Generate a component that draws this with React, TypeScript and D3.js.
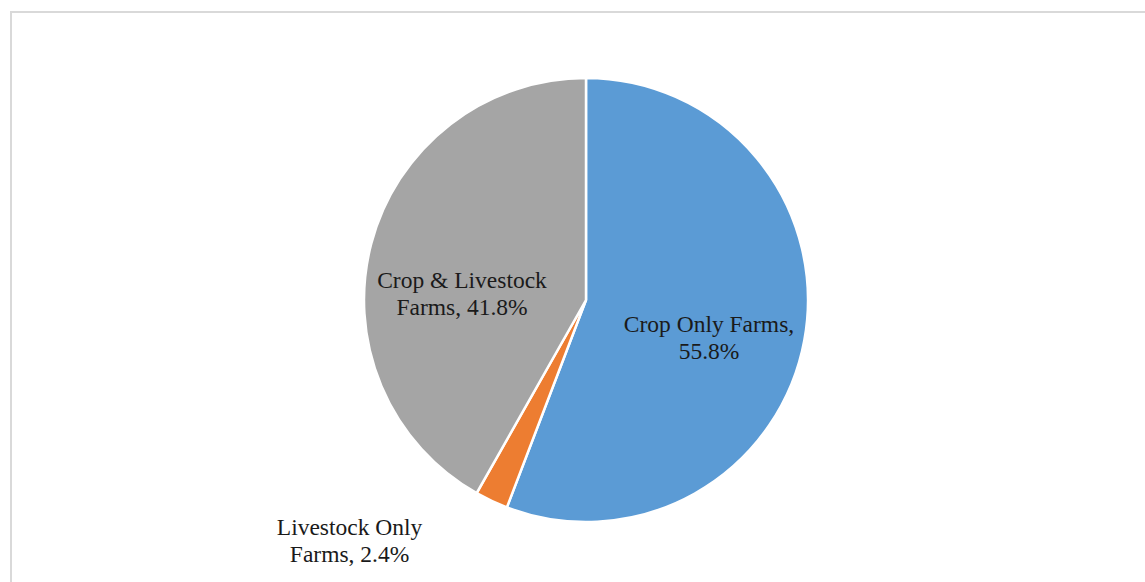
import React from "react";
import * as d3 from "d3";

const categories = ["Crop Only Farms", "Livestock Only Farms", "Crop & Livestock Farms"];
const values = [55.8, 2.4, 41.8];
const colors = ["#5b9bd5", "#ed7d31", "#a5a5a5"];
const labelLines = [
  ["Crop Only Farms,", "55.8%"],
  ["Livestock Only", "Farms, 2.4%"],
  ["Crop & Livestock", "Farms, 41.8%"],
];

const W = 1145, H = 582;
const cx = 586, cy = 300, R = 222;
const FONT = "'Liberation Serif', 'Times New Roman', serif";

export default function App() {
  const pie = d3.pie<number>().sort(null).value((d) => d)(values);
  const arc = d3.arc<d3.PieArcDatum<number>>().innerRadius(0).outerRadius(R);
  const labelR = [0.6, 1.25, 0.6];
  const labelOffsets = [[-8, 21.3], [-118.3, -2.6], [4.8, 35.5]];
  return (
    <svg width={W} height={H} style={{ position: "absolute", left: 0, top: 0 }}>
      <rect x={0} y={0} width={W} height={H} fill="#fff" />
      <rect x={11} y={12} width={W + 20} height={H + 20} fill="#fff" stroke="#d9d9d9" strokeWidth={2} />
      <g transform={`translate(${cx},${cy})`}>
        {pie.map((p, i) => (
          <path key={categories[i]} d={arc(p) || ""} fill={colors[i]} stroke="#fff" strokeWidth={2.5} />
        ))}
        {pie.map((p, i) => {
          const a = (p.startAngle + p.endAngle) / 2;
          const r = R * labelR[i];
          const x = Math.sin(a) * r + labelOffsets[i][0];
          const y = -Math.cos(a) * r + labelOffsets[i][1];
          return (
            <g key={"l" + i}>
              {labelLines[i].map((ln, j) => (
                <text key={j} x={x} y={y + (j === 0 ? -13.5 : 13.5)} textAnchor="middle"
                  style={{ fontFamily: FONT }} fontSize={23.5} fill="#1a1a1a">{ln}</text>
              ))}
            </g>
          );
        })}
      </g>
    </svg>
  );
}
